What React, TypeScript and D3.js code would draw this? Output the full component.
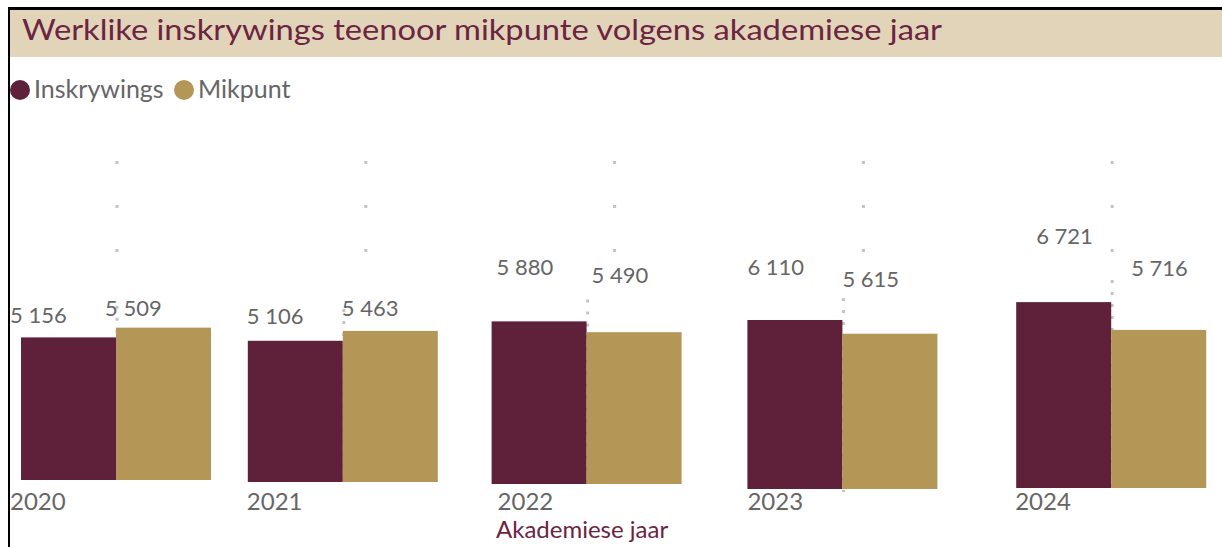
import React from "react";
import * as d3 from "d3";

const years = ["2020", "2021", "2022", "2023", "2024"];
const inskrywings = [5156, 5106, 5880, 6110, 6721];
const mikpunt = [5509, 5463, 5490, 5615, 5716];
const seriesNames = ["Inskrywings", "Mikpunt"];

// layout quirks of the reference (per group offsets, pixels)
const groupDx = [0, -22, -27, -20, 0];
const baseY = [480, 482, 484, 489, 488];
const labelDx = [-11, -1, 5, 0, 20];
const labelGapA = [14, 17, 46, 45, 58];
const labelGapB = [12, 15, 49, 47, 54];
const yearDx = [-11, -1, 6, 0, -1];

const W = 1222;
const H = 547;
const MAROON = "#5f2039";
const GOLD = "#b49756";
const TEXT = "#666666";
const TITLE = "#6b2442";
const FONT = "Lato, 'Open Sans', sans-serif";

export default function App() {
  const x = d3.scaleBand<string>().domain(years).range([21, 1206 + 249 - 190]).paddingInner(0).paddingOuter(0);
  const barW = 95;
  const h = d3.scaleLinear().domain([0, 7000]).range([0, 193.6]);

  return (
    <svg width={W} height={H} style={{ display: "block", position: "absolute", left: 0, top: 0 }} viewBox={`0 0 ${W} ${H}`}>
      <g>
        <rect x={8} y={7} width={W - 8} height={3} fill="#000" />
        <rect x={8} y={7} width={2} height={H} fill="#000" />
        <rect x={10} y={10} width={W - 10} height={47} fill="#e2d4b8" />
        <text x={22} y={40} fill={TITLE} fontFamily={FONT} fontSize={29} textLength={920} lengthAdjust="spacingAndGlyphs">
          Werklike inskrywings teenoor mikpunte volgens akademiese jaar
        </text>
        {seriesNames.map((s, i) => {
          const cx = i === 0 ? 20 : 184;
          return (
            <g key={s}>
              <circle cx={cx} cy={90} r={10} fill={i === 0 ? MAROON : GOLD} />
              <text x={cx + 14} y={98} fill={TEXT} fontFamily={FONT} fontSize={25}>{s}</text>
            </g>
          );
        })}
      </g>
      {years.map((yr, i) => {
        const left = (x(yr) as number) + groupDx[i];
        const gridX = (x(yr) as number) + barW + 1;
        const b = baseY[i];
        const hA = h(inskrywings[i]);
        const hB = h(mikpunt[i]);
        const mid = left + barW;
        const topMin = Math.min(b - hA, b - hB);
        return (
          <g key={yr}>
            <line x1={gridX} x2={gridX} y1={161} y2={255} stroke="#c4c4c4" strokeWidth={3} strokeDasharray="3 41" />
            <line x1={mid + 1} x2={mid + 1} y1={topMin - 22} y2={b + 3} stroke="#c4c4c4" strokeWidth={3} strokeDasharray="3 9" />
            <rect x={left} y={b - hA} width={barW} height={hA} fill={MAROON} />
            <rect x={left + barW} y={b - hB} width={barW} height={hB} fill={GOLD} />
            <text x={left + labelDx[i]} y={b - hA - labelGapA[i]} fill={TEXT} fontFamily={FONT} fontSize={22}>
              {d3.format(",")(inskrywings[i]).replace(",", " ")}
            </text>
            <text x={left + barW + labelDx[i]} y={b - hB - labelGapB[i]} fill={TEXT} fontFamily={FONT} fontSize={22}>
              {d3.format(",")(mikpunt[i]).replace(",", " ")}
            </text>
            <text x={left + yearDx[i]} y={510} fill={TEXT} fontFamily={FONT} fontSize={24}>{yr}</text>
          </g>
        );
      })}
      <text x={496} y={538} fill={TITLE} fontFamily={FONT} fontSize={24}>Akademiese jaar</text>
    </svg>
  );
}
